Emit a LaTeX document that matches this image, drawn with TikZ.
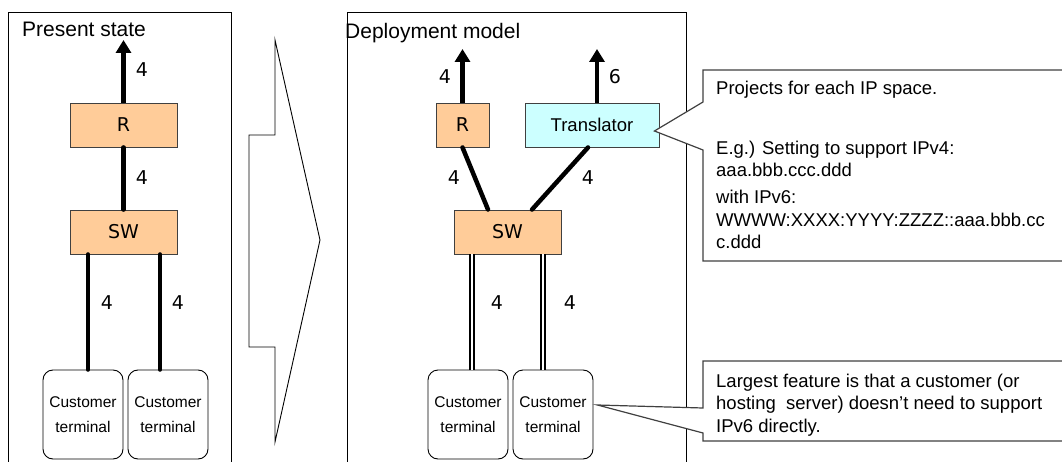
\documentclass[tikz,border=0pt]{standalone}
\usepackage{fontspec}
\setmainfont{Liberation Sans}
\newfontfamily\dvfont{DejaVu Sans}
\usetikzlibrary{arrows.meta,calc}
\definecolor{orfill}{HTML}{FFCC99}
\definecolor{cyfill}{HTML}{CCFFFF}
\definecolor{edge}{HTML}{404040}
\tikzset{
  frameline/.style={draw=black, line width=1pt},
  orbox/.style={draw=edge, fill=orfill, line width=0.9pt, minimum height=44pt, inner sep=0pt, font=\dvfont\fontsize{19}{22}\selectfont},
  cybox/.style={draw=edge, fill=cyfill, line width=0.9pt, minimum height=44pt, inner sep=0pt, font=\fontsize{18.5}{22}\selectfont},
  term/.style={draw=black, line width=0.9pt, rounded corners=10pt, minimum width=80pt, minimum height=89pt, align=center, inner sep=0pt, font=\fontsize{15.5}{25}\selectfont},
  fatlink/.style={line width=4.5pt, line cap=round},
  uparrow/.style={line width=4.5pt, -{Triangle[width=15pt,length=13pt]}},
  dbl/.style={draw=black, line width=2.2pt, double=white, double distance=1.2pt},
  num/.style={font=\dvfont\fontsize{19}{22}\selectfont, inner sep=0pt},
  callout/.style={draw=edge, fill=white, line width=1.2pt},
  ctext/.style={anchor=base west, inner sep=0pt, font=\fontsize{18.5}{22}\selectfont},
  title/.style={anchor=base west, inner sep=0pt, font=\fontsize{21}{24}\selectfont},
}
\begin{document}
\begin{tikzpicture}[x=1pt,y=-1pt]
\useasboundingbox (0,0) rectangle (1062,462);
\clip (0,0) rectangle (1062,462);

% frames
\draw[frameline] (8,462) -- (8,13) -- (231,13) -- (231,462);
\draw[frameline] (347,462) -- (347,13) -- (686,13) -- (686,462);

% big hollow arrow
\draw[line width=0.9pt] (249,135) -- (275,135) -- (275,40) -- (320,240) -- (275,442) -- (275,347) -- (249,347) -- cycle;

% titles
\node[title] (t1) at (22,37) {Present state};
\node[title] (t2) at (345,39) {Deployment model};

% present state
\node[orbox, minimum width=107pt] (R1) at (123.5,125) {R};
\node[orbox, minimum width=107pt] (SW1) at (123.5,232) {SW};
\node[term] (T1a) at (83,414.5) {Customer\\terminal};
\node[term] (T1b) at (168,414.5) {Customer\\terminal};
\coordinate (o1) at (123.5,40);
\draw[uparrow] (R1.north) -- (o1);
\draw[fatlink] (R1.south) -- (SW1.north);
\draw[fatlink] ([xshift=-35.5pt]SW1.south) -- ([xshift=5pt]T1a.north);
\draw[fatlink] ([xshift=36.5pt]SW1.south) -- ([xshift=-8pt]T1b.north);
\node[num] (n1) at (142,70) {4};
\node[num] (n2) at (142,178) {4};
\node[num] (n3) at (107,303) {4};
\node[num] (n4) at (178,303) {4};

% deployment model
\node[orbox, minimum width=53pt] (R2) at (462.5,125) {R};
\node[cybox, minimum width=134pt] (Tr) at (592,125) {Translator};
\node[orbox, minimum width=107pt] (SW2) at (507.5,232) {SW};
\node[term] (T2a) at (468,414.5) {Customer\\terminal};
\node[term] (T2b) at (553,414.5) {Customer\\terminal};
\coordinate (o2) at (462.5,49);
\coordinate (o3) at (597,49);
\draw[uparrow] (R2.north) -- (o2);
\draw[uparrow] ([xshift=5pt]Tr.north) -- (o3);
\draw[fatlink] (R2.south) -- ([xshift=-19.5pt]SW2.north);
\draw[fatlink] ([xshift=-4pt]Tr.south) -- ([xshift=24.5pt]SW2.north);
\draw[dbl] ([xshift=-35.5pt]SW2.south) -- ([xshift=4pt]T2a.north);
\draw[dbl] ([xshift=35.5pt]SW2.south) -- ([xshift=-10pt]T2b.north);
\node[num] (n5) at (445,77) {4};
\node[num] (n6) at (615,77) {6};
\node[num] (n7) at (454,178) {4};
\node[num] (n8) at (588,178) {4};
\node[num] (n9) at (497,303) {4};
\node[num] (n10) at (570,303) {4};

% callout 1
\coordinate (c1) at ($(Tr.east)+(-5,6)$);
\draw[callout] (1063,70) -- (703,70) -- (703,102) -- (c1) -- (703,150) -- (703,261) -- (1063,261);
\node[ctext] (a1) at (716,95) {Projects for each IP space.};
\node[ctext] (a2) at (716,155) {E.g.) Setting to support IPv4:};
\node[ctext] (a3) at (716,177) {aaa.bbb.ccc.ddd};
\node[ctext] (a4) at (716,204) {with IPv6:};
\node[ctext] (a5) at (716,227) {WWWW:XXXX:YYYY:ZZZZ::aaa.bbb.cc};
\node[ctext] (a6) at (716,249) {c.ddd};

% callout 2
\coordinate (c2) at ($(T2b.east)+(4,-9.5)$);
\draw[callout] (1063,361) -- (703,361) -- (703,408) -- (c2) -- (703,433) -- (703,441) -- (1063,441);
\node[ctext] (b1) at (716,387) {Largest feature is that a customer (or};
\node[ctext] (b2) at (716,409.5) {hosting\ \ server) doesn’t need to support};
\node[ctext] (b3) at (716,432) {IPv6 directly.};
\end{tikzpicture}
\end{document}
